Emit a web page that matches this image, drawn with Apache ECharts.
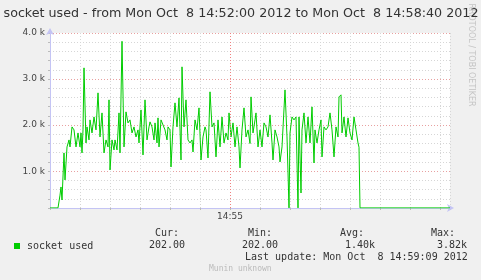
<!DOCTYPE html>
<html><head><meta charset="utf-8">
<script src="https://cdn.jsdelivr.net/npm/echarts@6/dist/echarts.min.js"></script>
<style>html,body{margin:0;padding:0;background:#f0f0f0;}#c{width:481px;height:280px;}</style>
</head><body><div id="c"></div>
<script>
// seconds after 14:52:00
const secs = [0,8,10,11,12,14,15,17,19,20,22,24,26,28,30,31,32,33,34,36,37,39,40,42,44,46,48,50,52,54,56,58,59,60,62,64,65,67,69,70,72,74,76,78,80,82,84,86,88,89,91,93,95,97,99,100,102,104,105,107,108,109,111,113,115,117,118,120,121,123,125,127,129,131,132,134,136,138,140,142,143,145,147,149,151,153,155,156,158,160,162,164,166,168,170,172,174,176,178,179,181,183,185,187,189,190,192,194,196,198,200,201,203,205,206,208,210,212,214,216,218,220,222,223,225,227,229,230,232,234,235,237,239,240,242,244,246,248,249,251,252,254,256,258,260,262,264,265,267,269,271,272,274,276,278,280,282,284,286,288,289,291,292,294,296,298,300,302,304,306,308,309,310,400];
const socketUsed = [202,202,480,657,374,1396,809,1526,1678,1526,1961,1896,1526,1830,1526,1830,1396,1896,3243,1613,1961,1678,2113,1830,2178,1896,2700,1743,2265,1396,1678,1526,2548,1026,1678,1461,1678,1461,2265,1396,3820,1526,2287,2048,2113,1830,1961,1743,1896,1613,2330,1352,2548,1678,1961,2070,1961,1678,2048,1613,2157,1526,2113,2070,1896,1678,1961,1896,1091,1961,2483,1961,2591,1243,3265,1961,2548,1678,1613,1678,1417,2113,1896,2374,1243,1743,1961,1896,1287,2722,1961,2048,1309,2113,1526,2178,1613,1830,1678,2265,1743,2048,1526,1961,1526,1070,1896,2374,1743,1896,1600,2613,1830,2113,2265,1526,1896,1526,2048,1961,1743,2222,1613,1243,1896,1743,1526,1200,1526,1526,2765,1743,202,1830,2178,2113,2178,202,2178,526,1896,2265,1613,2178,1613,2396,1178,1896,1613,1896,2113,1309,1961,1896,1961,2265,1896,1309,1961,1743,2613,2657,1830,2178,1743,2157,1830,1678,2178,1896,1613,1520,202,202];
const yTicks = [1000,2000,3000,4000];
const yTickLabels = ['1.0 k','2.0 k','3.0 k','4.0 k'];
const xMajor = 180, xMajorLabel = '14:55';
const title = 'socket used - from Mon Oct  8 14:52:00 2012 to Mon Oct  8 14:58:40 2012';
const statHeads = ['Cur:','Min:','Avg:','Max:'];
const statVals = ['202.00','202.00','1.40k','3.82k'];
const lastUpdate = 'Last update: Mon Oct  8 14:59:09 2012';

const chart = echarts.init(document.getElementById('c'));
const minor = '#d6d6d6', major = '#e8a0a0';
const mono = '"DejaVu Sans Mono", monospace';
const sans = '"DejaVu Sans", sans-serif';
const headX = [155,248,340,431];
const valX = [149,242,345,437];
const g = [
  {type:'text', x:471.5, y:55, rotation:-Math.PI/2, style:{text:'RRDTOOL / TOBI OETIKER', font:'8px '+sans, fill:'#c4c4c4', align:'center', verticalAlign:'middle'}},
  {type:'text', x:241, y:14, style:{text:title, font:'12.7px '+sans, fill:'#333', align:'center', verticalAlign:'middle'}},
  {type:'text', x:245, y:257, style:{text:lastUpdate, font:'10px '+mono, fill:'#333', verticalAlign:'middle'}},
  {type:'text', x:209, y:269, style:{text:'Munin unknown', font:'8px '+mono, fill:'#bbb', verticalAlign:'middle'}}
];
statHeads.forEach((t,i)=>g.push({type:'text', x:headX[i], y:233, style:{text:t, font:'10px '+mono, fill:'#333', verticalAlign:'middle'}}));
statVals.forEach((t,i)=>g.push({type:'text', x:valX[i], y:245, style:{text:t, font:'10px '+mono, fill:'#333', verticalAlign:'middle'}}));

chart.setOption({
  backgroundColor:'#f0f0f0',
  animation:false,
  grid:{left:50, top:33, width:400, height:175, show:true, backgroundColor:'#fff', borderWidth:0},
  legend:{left:14, top:241, padding:0, itemWidth:6, itemHeight:6, icon:'rect', data:['socket used'],
    textStyle:{fontFamily:mono, fontSize:10, color:'#333', padding:[0,0,0,2]}},
  graphic:g,
  xAxis:{type:'value', min:0, max:400, interval:30,
    axisLine:{show:true, lineStyle:{color:'#c4c4f4', width:1}, symbol:['none','arrow'], symbolSize:[6,7], symbolOffset:[0,4]},
    axisTick:{show:true, length:2, lineStyle:{color:'#bbb'}},
    axisLabel:{margin:4, fontFamily:sans, fontSize:9, color:'#444', formatter:v=> v===xMajor ? xMajorLabel : '', showMinLabel:true},
    splitLine:{show:true, lineStyle:{color:minor, type:[1,2], width:1}}},
  yAxis:{type:'value', min:200, max:4000, interval:200,
    axisLine:{show:true, lineStyle:{color:'#c4c4f4', width:1}, symbol:['none','arrow'], symbolSize:[6,7], symbolOffset:[0,5]},
    axisTick:{show:true, length:2, lineStyle:{color:'#bbb'}},
    axisLabel:{margin:5, fontFamily:sans, fontSize:9, color:'#444', formatter:v=>{const i=yTicks.indexOf(v); return i>=0?yTickLabels[i]:'';}},
    splitLine:{show:true, lineStyle:{color:[minor,minor,minor,minor,major], type:[1,2], width:1}}},
  series:[{name:'socket used', type:'line', data:secs.map((s,i)=>[s,socketUsed[i]]), showSymbol:false, symbol:'none',
    lineStyle:{color:'#00cc00', width:1}, itemStyle:{color:'#00cc00'},
    markLine:{silent:true, symbol:'none', label:{show:false}, lineStyle:{color:'#f08080', type:[1,2], width:1}, data:[{xAxis:xMajor}]}}]
});
</script></body></html>
